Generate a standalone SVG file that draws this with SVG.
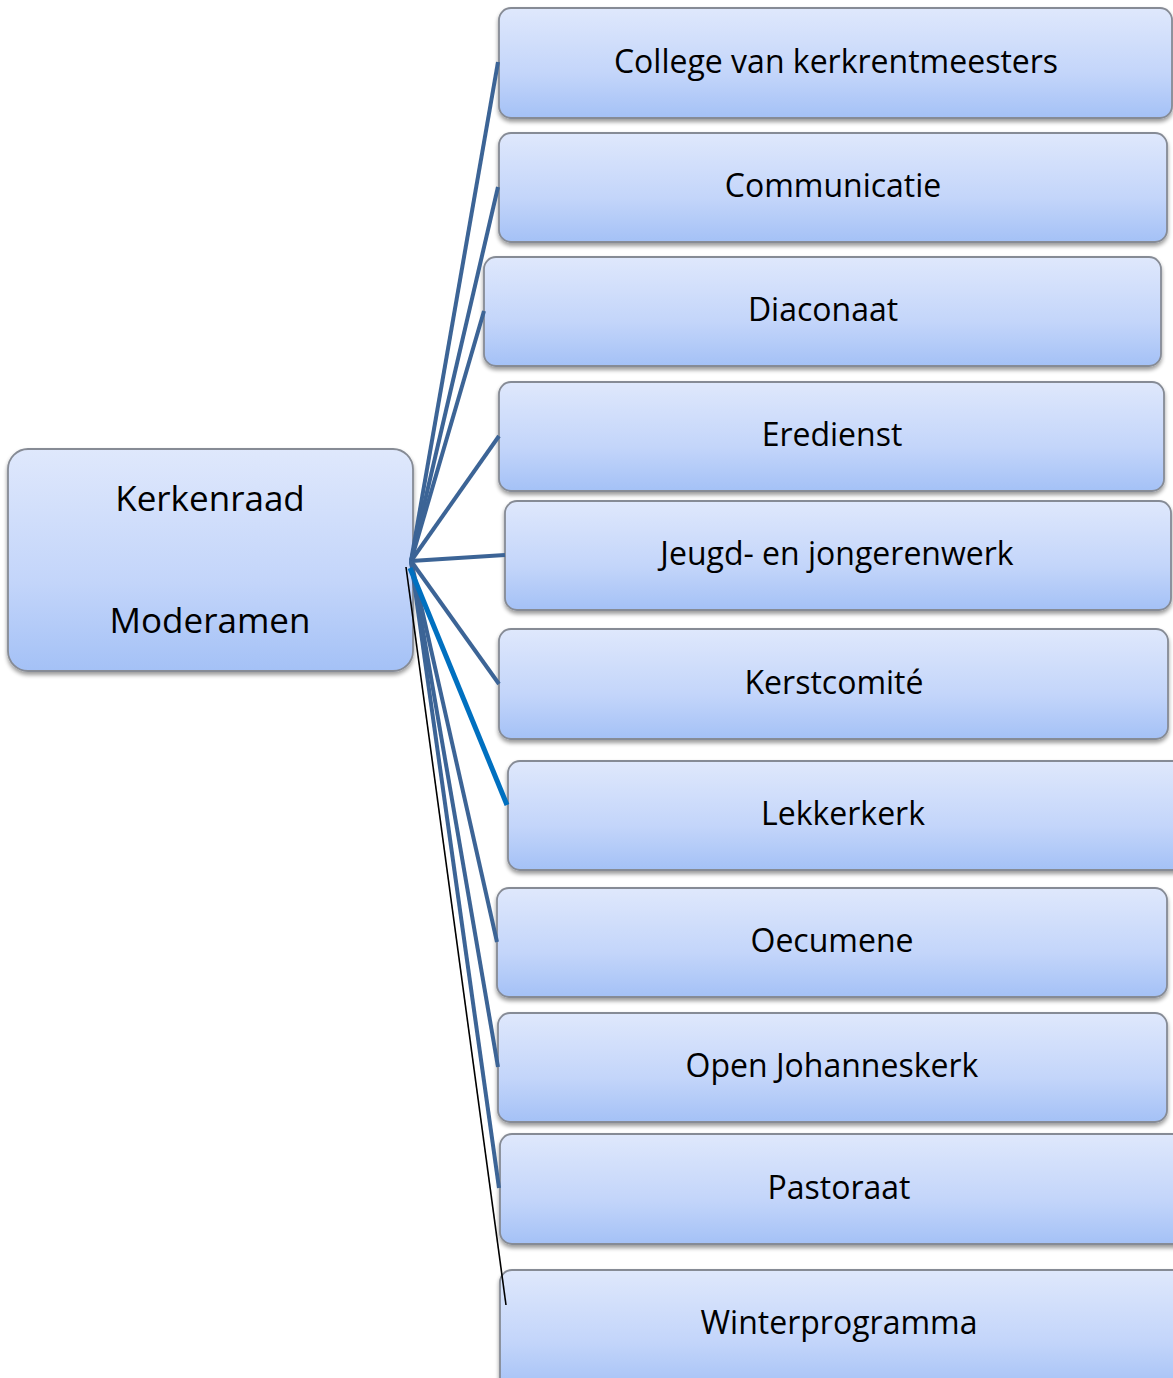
<svg xmlns="http://www.w3.org/2000/svg" width="1173" height="1378" viewBox="0 0 1173 1378">
<defs>
<linearGradient id="g" x1="0" y1="0" x2="0" y2="1">
<stop offset="0" stop-color="#dfe8fc"/>
<stop offset="0.6" stop-color="#c3d5fa"/>
<stop offset="1" stop-color="#a4c1f6"/>
</linearGradient>
<filter id="sh" x="-5%" y="-5%" width="110%" height="120%">
<feGaussianBlur in="SourceAlpha" stdDeviation="2"/>
<feOffset dx="0" dy="3" result="b"/>
<feComponentTransfer><feFuncA type="linear" slope="0.4"/></feComponentTransfer>
<feMerge><feMergeNode/><feMergeNode in="SourceGraphic"/></feMerge>
</filter>
</defs>
<style>
.box{fill:url(#g);stroke:#868b95;stroke-width:1.8;filter:url(#sh)}
.t{font-family:"Open Sans","Liberation Sans",sans-serif;font-size:32px;fill:#000;text-anchor:middle}
.tb{font-family:"Open Sans","Liberation Sans",sans-serif;font-size:35px;fill:#000;text-anchor:middle}
.c{stroke:#3c6496;stroke-width:4;fill:none;stroke-linecap:butt}
</style>
<rect width="1173" height="1378" fill="#fff"/>
<g id="n-kerkenraad">
<rect class="box" x="8" y="449" width="405" height="222" rx="20"/>
<text class="tb" x="210" y="511">Kerkenraad</text>
<text class="tb" x="210" y="633">Moderamen</text>
</g>
<g id="n1"><rect class="box" x="499" y="8" width="673" height="110" rx="12"/><text class="t" x="836" y="73">College van kerkrentmeesters</text></g>
<g id="n2"><rect class="box" x="499" y="133" width="668" height="109" rx="12"/><text class="t" x="833" y="197">Communicatie</text></g>
<g id="n3"><rect class="box" x="484" y="257" width="677" height="109" rx="12"/><text class="t" x="823" y="321">Diaconaat</text></g>
<g id="n4"><rect class="box" x="499" y="382" width="665" height="109" rx="12"/><text class="t" x="832" y="446">Eredienst</text></g>
<g id="n5"><rect class="box" x="505" y="501" width="666" height="109" rx="12"/><text class="t" x="837" y="565">Jeugd- en jongerenwerk</text></g>
<g id="n6"><rect class="box" x="499" y="629" width="669" height="110" rx="12"/><text class="t" x="834" y="694">Kerstcomité</text></g>
<g id="n7"><rect class="box" x="508" y="761" width="680" height="109" rx="12"/><text class="t" x="843" y="825">Lekkerkerk</text></g>
<g id="n8"><rect class="box" x="497" y="888" width="670" height="109" rx="12"/><text class="t" x="832" y="952">Oecumene</text></g>
<g id="n9"><rect class="box" x="498" y="1013" width="669" height="109" rx="12"/><text class="t" x="832" y="1077">Open Johanneskerk</text></g>
<g id="n10"><rect class="box" x="500" y="1134" width="690" height="110" rx="12"/><text class="t" x="839" y="1199">Pastoraat</text></g>
<g id="n11"><rect class="box" x="500" y="1270" width="690" height="120" rx="12"/><text class="t" x="839" y="1334">Winterprogramma</text></g>
<g id="connectors">
<line class="c" x1="411" y1="561" x2="498" y2="62"/>
<line class="c" x1="411" y1="561" x2="498" y2="187"/>
<line class="c" x1="411" y1="561" x2="484" y2="311"/>
<line class="c" x1="411" y1="561" x2="499" y2="436"/>
<line class="c" x1="411" y1="561" x2="505" y2="555"/>
<line class="c" x1="411" y1="561" x2="499" y2="684"/>
<line class="c" x1="411" y1="561" x2="497" y2="942"/>
<line class="c" x1="411" y1="561" x2="498" y2="1067"/>
<line class="c" x1="411" y1="561" x2="499" y2="1188"/>
<line x1="410" y1="568" x2="507" y2="805" stroke="#0070c0" stroke-width="5"/>
<line x1="406" y1="567" x2="506" y2="1305" stroke="#000" stroke-width="1.6"/>
</g>
</svg>
